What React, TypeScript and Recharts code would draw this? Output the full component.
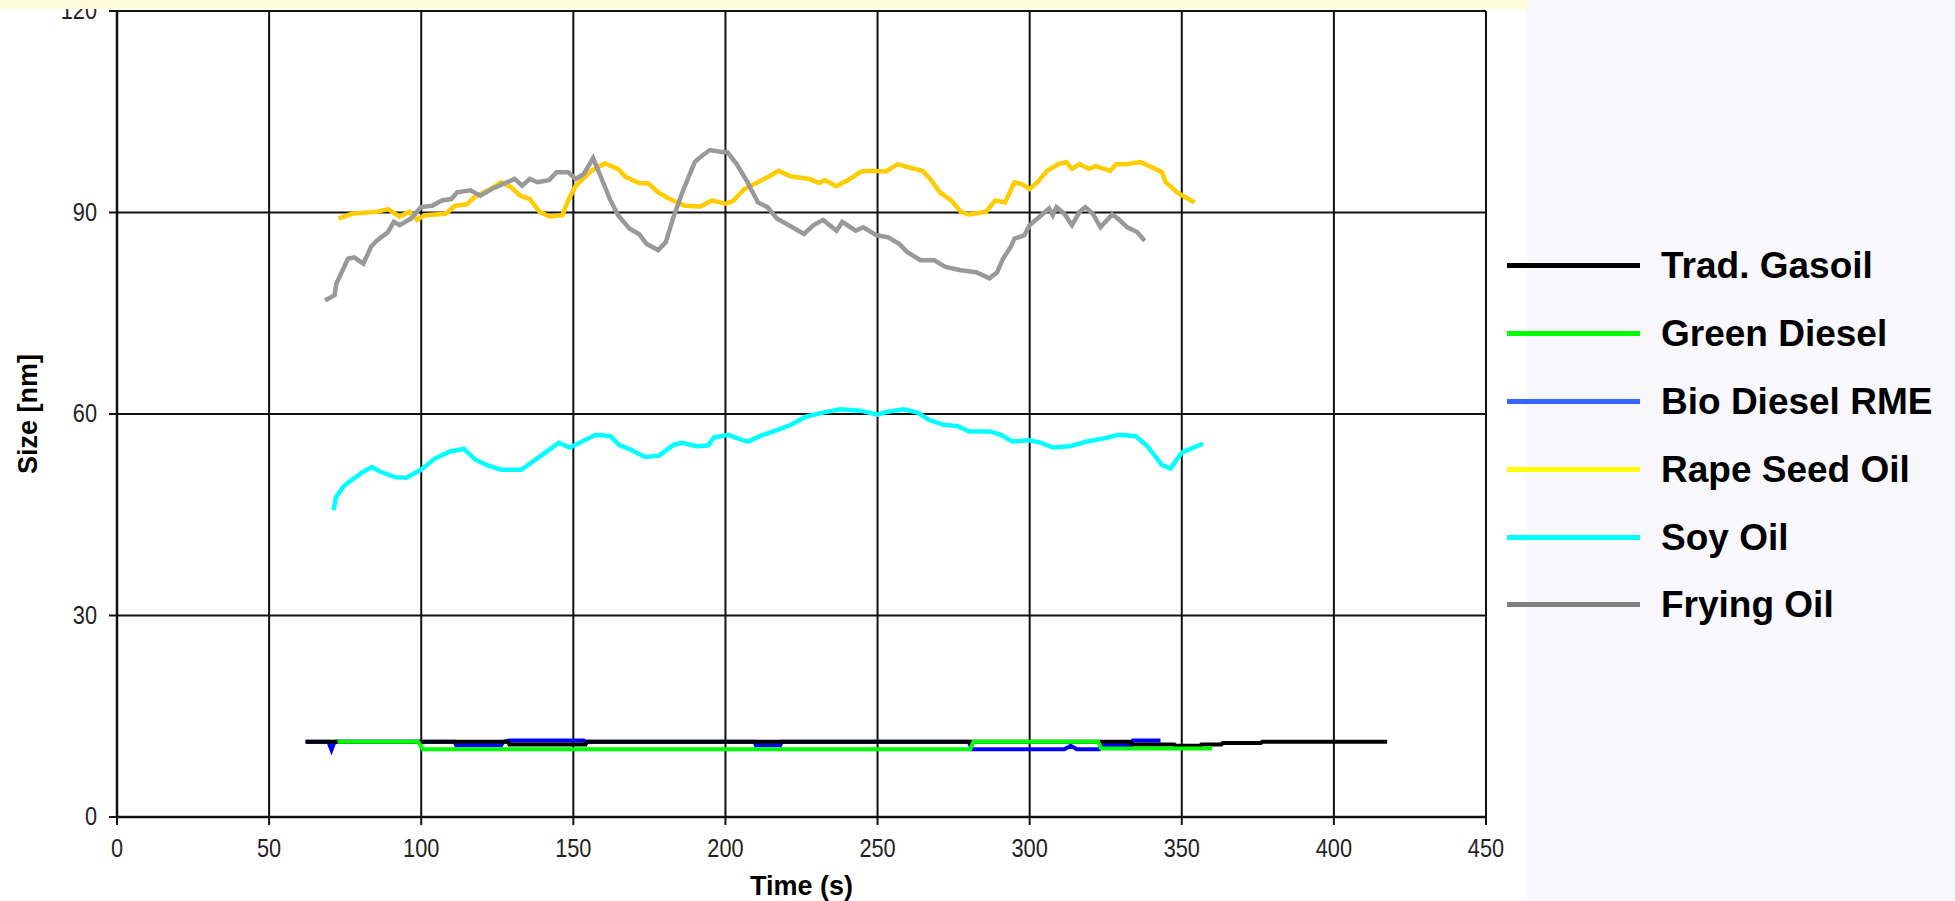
import React from 'react';
import { LineChart, Line, XAxis, YAxis, CartesianGrid, Label } from 'recharts';

// time (s), size (nm)
const tradGasoil: [number, number][] = [
  [62, 11.2], [128.5, 11.2], [129, 10.8], [154, 10.8], [154.5, 11.2], [333, 11.2], [333.5, 10.8],
  [347.5, 10.8], [348, 10.6], [356, 10.6], [356.5, 10.8], [363, 10.8], [363.5, 11.0], [376, 11.0],
  [376.5, 11.2], [417.5, 11.2]
];
const greenDiesel: [number, number][] = [
  [72.5, 11.2], [99, 11.2], [100.5, 10.1], [280.5, 10.1], [281.5, 11.2], [322.5, 11.2], [323.5, 10.2], [360, 10.2]
];
const bioDieselRme: [number, number][] = [
  [62, 11.2], [69.5, 11.2], [70.5, 10.0], [71.5, 11.2], [111, 11.2], [111.5, 10.7], [126.3, 10.7],
  [127, 11.2], [129, 11.4], [153.4, 11.4], [154, 11.2], [209.5, 11.2], [210, 10.7], [218, 10.7],
  [218.5, 11.2], [280, 11.2], [281, 10.1], [311.4, 10.1], [313.5, 10.6], [315.5, 10.1], [323, 10.1],
  [324, 10.7], [333.5, 10.7], [334, 11.4], [343, 11.4]
];
const rapeSeedOil: [number, number][] = [
  [72.8, 89.1], [77.2, 89.8], [85.4, 90.1], [89.1, 90.5], [92.9, 89.4], [96.1, 90.1], [98.6, 88.9],
  [101.1, 89.6], [108, 89.8], [111.2, 91.0], [115, 91.2], [117.5, 92.3], [121.9, 93.3], [126.3, 94.5],
  [129.4, 93.8], [132.6, 92.5], [135.7, 92.0], [138.9, 90.1], [142, 89.4], [146.4, 89.6], [148.3, 91.8],
  [150.8, 94.0], [155.9, 96.2], [160.3, 97.3], [164.7, 96.5], [167.2, 95.3], [171.6, 94.4], [174.8, 94.3],
  [177.9, 93.0], [181.7, 92.0], [186.7, 91.0], [191.8, 90.9], [195.5, 91.8], [200, 91.3], [202.5, 91.7],
  [206.2, 93.5], [210.6, 94.5], [214.4, 95.4], [217.5, 96.2], [221.3, 95.4], [227.6, 95.0], [230.8, 94.4],
  [232.7, 94.8], [236.4, 93.9], [240.2, 94.8], [244.6, 96.1], [247.8, 96.2], [252.8, 96.1], [256.6, 97.2],
  [260.4, 96.7], [264.8, 96.2], [267.3, 95.0], [270.5, 93.0], [274.2, 91.8], [277.4, 90.1], [279.9, 89.7],
  [285.6, 90.1], [288.7, 91.8], [291.9, 91.5], [295, 94.5], [297.5, 94.2], [300, 93.5], [302.6, 94.5],
  [305.7, 96.2], [309.5, 97.2], [312, 97.5], [313.9, 96.5], [316.4, 97.2], [319.5, 96.5], [321.7, 96.9],
  [326.5, 96.2], [328.4, 97.2], [331.5, 97.2], [336.5, 97.5], [340.3, 96.7], [343.5, 96.0], [344.7, 94.5],
  [348.5, 93.0], [351, 92.3], [354.2, 91.5]
];
const soyOil: [number, number][] = [
  [71.2, 45.7], [71.9, 47.5], [74.4, 49.2], [77.2, 50.2], [81, 51.4], [83.8, 52.1], [86.6, 51.4],
  [91.3, 50.6], [95.1, 50.5], [99.9, 51.7], [104.6, 53.4], [109.3, 54.4], [114, 54.8], [117.8, 53.2],
  [121.6, 52.4], [126.3, 51.7], [132.9, 51.7], [137.6, 53.2], [145.2, 55.7], [148.9, 55.0], [153.7, 56.1],
  [157.4, 56.9], [162.2, 56.7], [165, 55.4], [168.8, 54.7], [173.5, 53.6], [178.2, 53.8], [182.9, 55.4],
  [185.8, 55.7], [190.5, 55.2], [194.3, 55.3], [196.2, 56.5], [200.9, 56.9], [205.6, 56.1], [207.5, 55.9],
  [211.3, 56.7], [216.9, 57.6], [221.6, 58.4], [226.4, 59.6], [232, 60.2], [237.7, 60.7], [244.3, 60.5],
  [250, 59.9], [252.8, 60.3], [258.5, 60.7], [263.2, 60.2], [267, 59.1], [271.7, 58.4], [276.4, 58.2],
  [280.2, 57.4], [286.8, 57.4], [290.6, 56.9], [294.3, 55.9], [300, 56.1], [303.8, 55.7], [307.6, 55.0],
  [313.2, 55.2], [318.9, 55.9], [324.6, 56.4], [329.3, 56.9], [334.9, 56.7], [338.7, 55.2], [343.5, 52.4],
  [346.3, 51.9], [350.1, 54.3], [352.9, 54.8], [357, 55.6]
];
const fryingOil: [number, number][] = [
  [68.4, 76.9], [71.5, 77.7], [72.1, 79.4], [75.9, 83.1], [78, 83.3], [81, 82.4], [83.5, 84.9],
  [85.4, 85.8], [89.1, 87.1], [91, 88.6], [92.9, 88.1], [96.7, 89.1], [99.9, 90.8], [103.6, 91.0],
  [106.8, 91.8], [109.9, 92.0], [111.8, 93.0], [116.2, 93.3], [119.4, 92.5], [123.2, 93.5], [128.2, 94.5],
  [130.7, 95.0], [133.2, 94.0], [135.7, 95.0], [138.2, 94.5], [142, 94.8], [144.5, 96.0], [148.3, 96.0],
  [150.8, 95.0], [153.4, 95.7], [156.5, 98.1], [158.4, 96.0], [162.2, 91.8], [164.7, 89.6], [168.5, 87.6],
  [171.6, 86.8], [174.1, 85.3], [177.9, 84.4], [180.4, 85.6], [182.9, 89.3], [186.1, 93.3], [189.9, 97.5],
  [192.4, 98.5], [194.9, 99.3], [198.7, 99.0], [200.6, 99.0], [203.7, 97.2], [206.9, 94.8], [210.7, 91.5],
  [213.8, 90.8], [216.9, 89.1], [222, 87.8], [225.8, 86.8], [228.9, 88.1], [232.1, 88.9], [236.5, 87.3],
  [238.4, 88.6], [242.8, 87.3], [245.3, 87.8], [249.7, 86.6], [253.5, 86.3], [257.2, 85.3], [259.8, 84.1],
  [264.1, 82.9], [268.6, 82.9], [272.3, 81.9], [277.4, 81.4], [282.4, 81.1], [286.8, 80.2], [289.3, 81.1],
  [291.2, 83.1], [293.8, 84.9], [295, 86.1], [298.2, 86.6], [300, 88.1], [303.8, 89.6], [306.4, 90.6],
  [307.6, 89.6], [308.8, 90.8], [311.4, 89.8], [313.9, 88.1], [316.4, 90.1], [318.3, 90.8], [320.8, 89.8],
  [323.3, 87.8], [327.1, 89.7], [329, 89.1], [332.1, 87.8], [335.3, 87.1], [337.8, 85.8]
];

const xTicks = [0, 50, 100, 150, 200, 250, 300, 350, 400, 450];
const yTicks = [0, 30, 60, 90, 120];

// drawn in this order (later ones on top)
const series = [
  { name: 'Bio Diesel RME', points: bioDieselRme, color: '#0000ff', legendColor: '#3366ff', width: 4 },
  { name: 'Trad. Gasoil', points: tradGasoil, color: '#000000', legendColor: '#000000', width: 4 },
  { name: 'Green Diesel', points: greenDiesel, color: '#00ff00', legendColor: '#00ff00', width: 4 },
  { name: 'Rape Seed Oil', points: rapeSeedOil, color: '#ffcc00', legendColor: '#ffff00', width: 4.5 },
  { name: 'Soy Oil', points: soyOil, color: '#00ffff', legendColor: '#00ffff', width: 4.5 },
  { name: 'Frying Oil', points: fryingOil, color: '#999999', legendColor: '#808080', width: 4.5 },
];
const legendOrder = ['Trad. Gasoil', 'Green Diesel', 'Bio Diesel RME', 'Rape Seed Oil', 'Soy Oil', 'Frying Oil'];

const font = '"Liberation Sans", Arial, sans-serif';

const XTick = (props: any) => {
  const { x, y, payload } = props;
  return (
    <g transform={`translate(${x},${y})`}>
      <text transform="scale(0.87,1)" y={30} textAnchor="middle" fill="#222" fontSize={25} fontFamily={font}>
        {payload.value}
      </text>
    </g>
  );
};

const YTick = (props: any) => {
  const { x, y, payload } = props;
  return (
    <g transform={`translate(${x},${y})`}>
      <text transform="scale(0.87,1)" x={-11.5} y={8} textAnchor="end" fill="#222" fontSize={25} fontFamily={font}>
        {payload.value}
      </text>
    </g>
  );
};

export default function App() {
  return (
    <div style={{ position: 'absolute', left: 0, top: 0, width: 1955, height: 901, background: '#f8f8fc', overflow: 'hidden' }}>
      <div style={{ position: 'absolute', left: 0, top: 0, width: 1527, height: 901, background: '#ffffff' }} />
      <div style={{ position: 'absolute', left: 0, top: 0 }}>
        <LineChart width={1955} height={901} margin={{ top: 11, right: 469, bottom: 0, left: 0 }}>
          <CartesianGrid stroke="#111" strokeWidth={2} />
          <XAxis
            type="number"
            dataKey="t"
            domain={[0, 450]}
            ticks={xTicks}
            interval={0}
            height={84}
            tickSize={8}
            axisLine={{ stroke: '#111', strokeWidth: 2.5 }}
            tickLine={{ stroke: '#111', strokeWidth: 2 }}
            tick={<XTick />}
          >
            <Label value="Time (s)" position="insideBottom" offset={6} fill="#000" fontSize={27} fontWeight="bold" fontFamily={font} />
          </XAxis>
          <YAxis
            type="number"
            domain={[0, 120]}
            ticks={yTicks}
            interval={0}
            width={117}
            tickSize={8}
            axisLine={{ stroke: '#111', strokeWidth: 2.5 }}
            tickLine={{ stroke: '#111', strokeWidth: 2 }}
            tick={<YTick />}
          >
            <Label value="Size [nm]" angle={-90} position="insideLeft" offset={27} fill="#000" fontSize={27} fontWeight="bold" fontFamily={font} style={{ textAnchor: 'middle' }} />
          </YAxis>
          {series.map(s => (
            <Line
              key={s.name}
              name={s.name}
              data={s.points.map(([t, v]) => ({ t, v }))}
              dataKey="v"
              type="linear"
              stroke={s.color}
              strokeWidth={s.width}
              dot={false}
              activeDot={false}
              isAnimationActive={false}
            />
          ))}
        </LineChart>
      </div>
      <div style={{ position: 'absolute', left: 0, top: 0, width: 1527, height: 9, background: '#fffcdc' }} />
      <div style={{ position: 'absolute', left: 1507, top: 232, fontFamily: font }}>
        {legendOrder.map(name => {
          const s = series.find(item => item.name === name)!;
          return (
            <div key={name} style={{ height: 67.8, display: 'flex', alignItems: 'center' }}>
              <div style={{ width: 133, height: 5, background: s.legendColor }} />
              <span style={{ marginLeft: 21, fontSize: 37, fontWeight: 'bold', color: '#000', lineHeight: 1, whiteSpace: 'nowrap' }}>{name}</span>
            </div>
          );
        })}
      </div>
    </div>
  );
}
